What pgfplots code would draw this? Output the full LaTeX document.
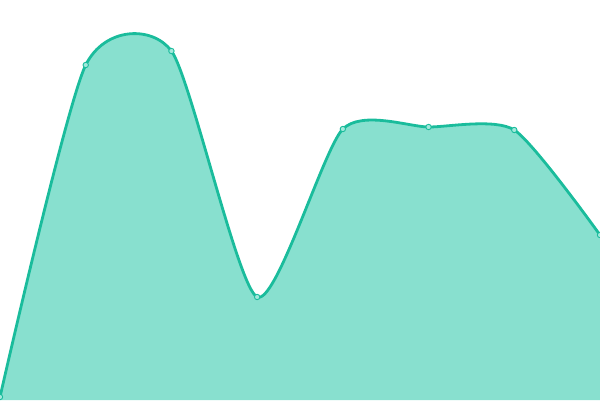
\documentclass[border=0pt]{standalone}
\usepackage{pgfplots}
\pgfplotsset{compat=1.18}
\definecolor{teal1}{HTML}{1ABC9C}
\definecolor{tealfill}{HTML}{88E0CF}
\definecolor{markfill}{HTML}{A3E9DC}
\begin{document}
\begin{tikzpicture}
    \begin{axis}[
            width=600pt,
            height=400pt,
            scale only axis,
            hide axis,
            xmin=0, xmax=7,
            ymin=0, ymax=400,
            clip=true
        ]
        % area
        \addplot[draw=none, fill=tealfill, smooth, tension=0.4] coordinates {
                (0,3) (1,335) (2,349) (3,103) (4,271) (5,273) (6,270) (7,165)
            } \closedcycle;
        % outline with markers
        \addplot[teal1, line width=2.8pt, smooth, tension=0.4,
            mark=*, mark size=2.7pt,
            mark options={fill=markfill, draw=teal1, line width=0.9pt}]
        coordinates {
                (0,3) (1,335) (2,349) (3,103) (4,271) (5,273) (6,270) (7,165)
            };
    \end{axis}
    \pgfresetboundingbox
    \useasboundingbox (current axis.south west) rectangle (current axis.north east);
\end{tikzpicture}
\end{document}
